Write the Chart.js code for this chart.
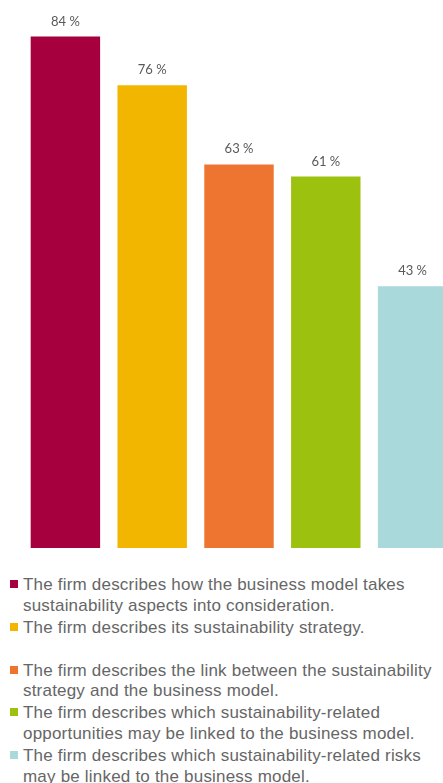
<!DOCTYPE html>
<html>
<head>
<meta charset="utf-8">
<script src="https://cdn.jsdelivr.net/npm/chart.js@4"></script>
<style>
  html, body { margin: 0; padding: 0; background: #fff; overflow: hidden; }
  #wrap { position: relative; width: 460px; height: 548px; }
  #legend {
    margin-top: 27px;
    padding-left: 10px;
    font-family: "Liberation Sans", Arial, sans-serif;
    font-size: 17px;
    letter-spacing: 0.2px;
    line-height: 20.5px;
    color: #666;
  }
  .item { display: flex; align-items: flex-start; min-height: 41px; margin-bottom: 1.75px; }
  .swatch { width: 8px; height: 8px; margin-top: 5px; margin-right: 5px; flex: none; }
  .line { white-space: nowrap; }
</style>
</head>
<body>
<div id="wrap"><canvas id="chart"></canvas></div>
<div id="legend"></div>
<script>
// ── Data ───────────────────────────────────────────────────────────────────
const categories = [
  ['The firm describes how the business model takes', 'sustainability aspects into consideration.'],
  ['The firm describes its sustainability strategy.'],
  ['The firm describes the link between the sustainability', 'strategy and the business model.'],
  ['The firm describes which sustainability-related', 'opportunities may be linked to the business model.'],
  ['The firm describes which sustainability-related risks', 'may be linked to the business model.'],
];
const values = [84, 76, 63, 61, 43];
const colors = ['#A6003F', '#F2B600', '#ED7530', '#9CC10E', '#A9D9DB'];

// ── Value labels above bars ────────────────────────────────────────────────
const valueLabels = {
  id: 'valueLabels',
  afterDatasetsDraw(chart) {
    const ctx = chart.ctx;
    const meta = chart.getDatasetMeta(0);
    ctx.save();
    ctx.font = '13px Lato, "Open Sans", sans-serif';
    ctx.fillStyle = '#595959';
    ctx.textAlign = 'center';
    ctx.textBaseline = 'alphabetic';
    meta.data.forEach((bar, i) => {
      ctx.fillText(values[i] + ' %', bar.x, bar.y - 11);
    });
    ctx.restore();
  }
};

new Chart(document.getElementById('chart'), {
  type: 'bar',
  data: {
    labels: categories.map(c => c.join(' ')),
    datasets: [{
      data: values,
      backgroundColor: colors,
      borderWidth: 0,
      categoryPercentage: 1,
      barPercentage: 0.8,
    }]
  },
  options: {
    responsive: true,
    maintainAspectRatio: false,
    animation: false,
    layout: { padding: { left: 22, right: 4, top: 0, bottom: 0 } },
    plugins: { legend: { display: false }, tooltip: { enabled: false } },
    scales: {
      x: { display: false },
      y: { display: false, min: 0, max: 90 },
    }
  },
  plugins: [valueLabels]
});

// ── Legend ─────────────────────────────────────────────────────────────────
const legend = document.getElementById('legend');
categories.forEach((lines, i) => {
  const item = document.createElement('div');
  item.className = 'item';
  const sw = document.createElement('span');
  sw.className = 'swatch';
  sw.style.background = colors[i];
  const txt = document.createElement('div');
  lines.forEach(l => {
    const d = document.createElement('div');
    d.className = 'line';
    d.textContent = l;
    txt.appendChild(d);
  });
  item.appendChild(sw);
  item.appendChild(txt);
  legend.appendChild(item);
});
</script>
</body>
</html>
